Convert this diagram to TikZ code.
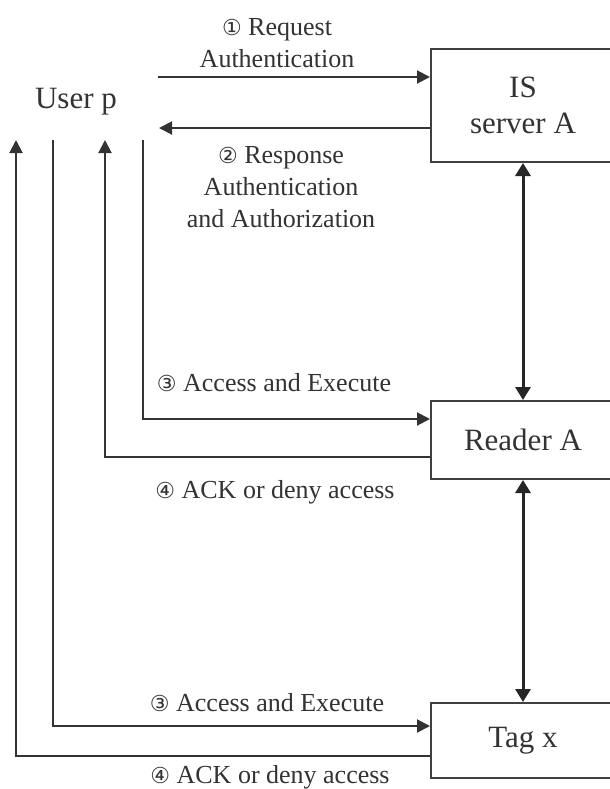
\documentclass[tikz,border=0pt]{standalone}
\usepackage{fontspec}
\setmainfont{Liberation Serif}
\newfontfamily\circfont{DejaVu Sans}
\usetikzlibrary{arrows.meta}
\newcommand{\cnum}[1]{{\circfont\fontsize{11}{11}\selectfont #1}}

\tikzset{
  auth flow/.style={line width=1pt,draw=black!80,
    -{Triangle[length=6.5pt,width=6.5pt]}},
  auth link/.style={line width=1.5pt,draw=black!85,
    {Triangle[length=6.5pt,width=7.5pt]}-{Triangle[length=6.5pt,width=7.5pt]}},
  auth box/.style={draw=black!75,line width=1pt,minimum width=92pt,
    align=center,inner sep=0pt,font=\fontsize{15.5}{18}\selectfont,text=black!80},
  auth label/.style={align=center,inner sep=0pt,text=black!80,
    font=\fontsize{13}{16}\selectfont}
}

\begin{document}
\begin{tikzpicture}[x=0.5pt,y=-0.5pt]
      \clip (0,0) rectangle (610,789);
      \fill[white] (0,0) rectangle (610,789);
      \node[auth box,minimum height=56.5pt] (server) at (523,105.5) {IS\\server A};
      \node[auth box,minimum height=39pt] (reader) at (523,440) {Reader A};
      \node[auth box,minimum height=37.5pt] (tag) at (523,740.5) {Tag x};
      \node[auth box,draw=none] (user) at (76,102) {User p};
      \coordinate (u1) at (158,77);
      \coordinate (u2) at (159,128);
      \coordinate (a3) at (143,140);
      \coordinate (a4) at (105,140);
      \coordinate (b3) at (53,140);
      \coordinate (b4) at (16,140);
      % user p and IS server A
      \draw[auth flow] (u1) -- (u1 -| server.west);
      \draw[auth flow] (u2 -| server.west) -- (u2);
      \draw[auth link] (server.south) -- (reader.north);
      \draw[auth link] (reader.south) -- (tag.north);
      % user p and reader / tag
      \draw[auth flow] (a3) |- ([yshift=10.5pt]reader.west);
      \draw[auth flow] ([yshift=-8.5pt]reader.west) -| (a4);
      \draw[auth flow] (b3) |- ([yshift=7.25pt]tag.west);
      \draw[auth flow] ([yshift=-7.75pt]tag.west) -| (b4);
      \node[auth label] (req) at (277,43.5) {\cnum{①} Request\\Authentication};
      \node[auth label] (resp) at (281,187) {\cnum{②} Response\\Authentication\\and Authorization};
      \node[auth label] (acc1) at (274,383) {\cnum{③} Access and Execute};
      \node[auth label] (ack1) at (275,492) {\cnum{④} ACK or deny access};
      \node[auth label] (acc2) at (267,703) {\cnum{③} Access and Execute};
      \node[auth label] (ack2) at (270,777) {\cnum{④} ACK or deny access};
    \end{tikzpicture}
\end{document}
